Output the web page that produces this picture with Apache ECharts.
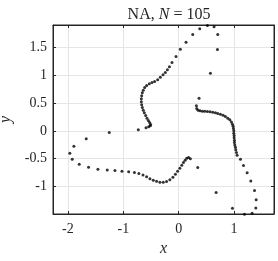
<!DOCTYPE html>
<html><head><meta charset="utf-8">
<script src="https://cdn.jsdelivr.net/npm/echarts@6/dist/echarts.min.js"></script>
<style>html,body{margin:0;padding:0;background:#fff;}#c{width:278px;height:261px;}</style>
</head><body><div id="c"></div>
<script>
const titleText = 'NA, N = 105';
const xTicks = [-2, -1, 0, 1];
const yTicks = [-1, -0.5, 0, 0.5, 1, 1.5];
const xRange = [-2.27, 1.72];
const yRange = [-1.5, 1.91];

const topArcX = [0.572, 0.699, 0.705, 0.638, 0.518, 0.379, 0.253, 0.132, 0.029, -0.049, -0.121];
const topArcY = [1.041, 1.468, 1.739, 1.877, 1.901, 1.841, 1.739, 1.601, 1.474, 1.342, 1.233];
const sCurveX = [-0.168, -0.205, -0.242, -0.284, -0.332, -0.380, -0.435, -0.483, -0.531, -0.579, -0.615, -0.640, -0.658, -0.669, -0.675, -0.675, -0.669, -0.658, -0.640, -0.621, -0.597, -0.573, -0.549, -0.525, -0.507, -0.513, -0.543, -0.591, -0.730];
const sCurveY = [1.155, 1.101, 1.053, 1.011, 0.969, 0.921, 0.890, 0.872, 0.848, 0.818, 0.782, 0.734, 0.686, 0.632, 0.578, 0.523, 0.469, 0.421, 0.373, 0.325, 0.277, 0.229, 0.186, 0.150, 0.114, 0.090, 0.072, 0.054, 0.018];
const leftX = [-1.254, -1.670, -1.893, -1.966, -1.923, -1.797, -1.628, -1.459, -1.291, -1.152, -1.025, -0.904];
const leftY = [-0.030, -0.144, -0.277, -0.403, -0.511, -0.602, -0.656, -0.692, -0.704, -0.716, -0.728, -0.737];
const bottomX = [-0.800, -0.720, -0.645, -0.580, -0.520, -0.460, -0.400, -0.340, -0.280, -0.220, -0.160, -0.105, -0.060, -0.020, 0.020, 0.055, 0.085, 0.115, 0.145, 0.178, 0.210, 0.343];
const bottomY = [-0.750, -0.770, -0.798, -0.830, -0.862, -0.890, -0.910, -0.925, -0.926, -0.912, -0.880, -0.838, -0.785, -0.730, -0.675, -0.622, -0.572, -0.530, -0.495, -0.481, -0.505, -0.662];
const rightX = [0.367, 0.319, 0.325, 0.349, 0.385, 0.427, 0.470, 0.518, 0.566, 0.614, 0.662, 0.705, 0.753, 0.801, 0.843, 0.886, 0.922, 0.952, 0.970, 0.982, 0.988, 0.994, 0.994, 1.000, 1.000, 1.006, 1.006, 1.012, 1.024, 1.030, 1.042, 1.054];
const rightY = [0.590, 0.451, 0.403, 0.373, 0.361, 0.355, 0.355, 0.349, 0.343, 0.337, 0.325, 0.313, 0.301, 0.283, 0.259, 0.229, 0.199, 0.162, 0.120, 0.084, 0.042, 0.000, -0.042, -0.084, -0.126, -0.168, -0.211, -0.253, -0.295, -0.343, -0.391, -0.439];
const tailX = [1.115, 1.169, 1.235, 1.301, 1.368, 1.398, 1.392, 1.325, 1.187, 0.970, 0.675];
const tailY = [-0.511, -0.626, -0.758, -0.903, -1.077, -1.245, -1.390, -1.486, -1.504, -1.396, -1.113];

const allX = [].concat(topArcX, sCurveX, leftX, bottomX, rightX, tailX);
const allY = [].concat(topArcY, sCurveY, leftY, bottomY, rightY, tailY);
const points = allX.map((x, i) => [x, allY[i]]);

const FONT = '"Liberation Serif", "DejaVu Serif", serif';
const TXT = '#262626';
const near = (v, arr) => arr.some(t => Math.abs(t - v) < 1e-6);

const chart = echarts.init(document.getElementById('c'), null, {renderer: 'canvas'});
const baseX = {
  type: 'value', min: xRange[0], max: xRange[1],
  axisLine: {show: true, onZero: false, lineStyle: {color: TXT, width: 1}},
  axisTick: {show: true, inside: true, length: 3, lineStyle: {color: TXT}, customValues: xTicks},
  splitLine: {show: true, lineStyle: {color: '#e5e5e5', width: 1}},
  axisLabel: {show: true, customValues: xTicks, color: TXT, fontFamily: FONT, fontSize: 14, margin: 8,
    formatter: v => near(v, xTicks) ? String(v) : ''}
};
const baseY = {
  type: 'value', min: yRange[0], max: yRange[1],
  axisLine: {show: true, onZero: false, lineStyle: {color: TXT, width: 1}},
  axisTick: {show: true, inside: true, length: 3, lineStyle: {color: TXT}, customValues: yTicks},
  splitLine: {show: true, lineStyle: {color: '#e5e5e5', width: 1}},
  axisLabel: {show: true, customValues: yTicks, color: TXT, fontFamily: FONT, fontSize: 14, margin: 6,
    formatter: v => near(v, yTicks) ? String(v) : ''}
};
chart.setOption({
  animation: false,
  backgroundColor: '#fff',
  title: {
    text: '{n|NA, }{i|N}{n| = 105}',
    left: 164, top: 2, textAlign: 'center',
    textStyle: {fontWeight: 'normal', rich: {
      n: {fontFamily: FONT, fontSize: 16, color: TXT, fontWeight: 'normal'},
      i: {fontFamily: FONT, fontSize: 16, color: TXT, fontStyle: 'italic', fontWeight: 'normal'}
    }}
  },
  grid: {left: 53, right: 4, top: 25, bottom: 47, show: true, borderColor: TXT, borderWidth: 1, backgroundColor: '#fff',
    containLabel: false, outerBoundsMode: 'none'},
  xAxis: [
    Object.assign({}, baseX, {position: 'bottom', name: 'x', nameLocation: 'middle', nameGap: 27,
      nameTextStyle: {fontFamily: FONT, fontSize: 16, fontStyle: 'italic', color: TXT}}),
    Object.assign({}, baseX, {position: 'top', splitLine: {show: false}, axisLabel: {show: false}})
  ],
  yAxis: [
    Object.assign({}, baseY, {position: 'left', name: 'y', nameLocation: 'middle', nameGap: 36, nameRotate: 90,
      nameTextStyle: {fontFamily: FONT, fontSize: 16, fontStyle: 'italic', color: TXT}}),
    Object.assign({}, baseY, {position: 'right', splitLine: {show: false}, axisLabel: {show: false}})
  ],
  series: [{
    type: 'scatter', data: points, symbol: 'circle', symbolSize: 3,
    itemStyle: {color: '#000'}, clip: false
  }]
});
</script></body></html>
